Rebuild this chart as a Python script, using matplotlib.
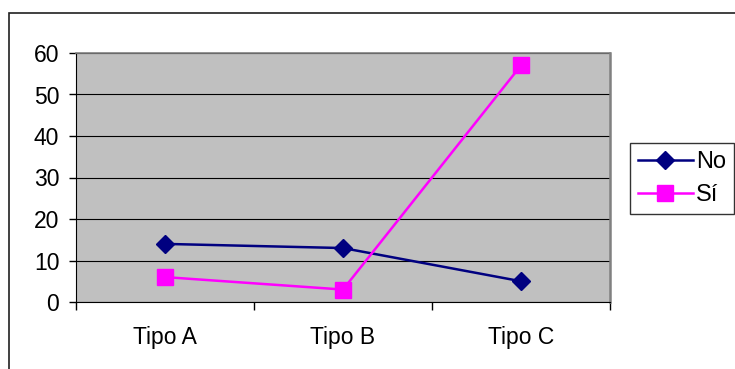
import matplotlib
matplotlib.use("Agg")
import matplotlib.pyplot as plt
from matplotlib.patches import Rectangle

categories = ["Tipo A", "Tipo B", "Tipo C"]
no_vals = [14, 13, 5]
si_vals = [6, 3, 57]
y_ticks = [0, 10, 20, 30, 40, 50, 60]

plt.rcParams['font.family'] = ['Liberation Sans', 'DejaVu Sans']
W, H = 735, 369
fig = plt.figure(figsize=(W / 100, H / 100), dpi=100)

# outer chart border (extends past right/bottom edges)
fig.patches.append(Rectangle((9 / W, -0.2), 1.2, 1 - 13 / H + 0.2,
                             transform=fig.transFigure, fill=False,
                             edgecolor='#202020', linewidth=1.2))

ax = fig.add_axes([76 / W, 1 - 302 / H, (610 - 76) / W, (302 - 53) / H])
ax.set_facecolor('#C0C0C0')
x = list(range(len(categories)))

ax.plot(x, no_vals, color='#000080', linewidth=1.8, marker='D', markersize=9.5,
        markerfacecolor='#000080', markeredgecolor='#000080', label='No', zorder=3)
ax.plot(x, si_vals, color='#FF00FF', linewidth=1.8, marker='s', markersize=11,
        markerfacecolor='#FF00FF', markeredgecolor='#FF00FF', label='Sí', zorder=3)

ax.set_xlim(-0.5, 2.5)
ax.set_ylim(0, 60)
ax.set_yticks(y_ticks)
ax.set_yticklabels([str(v) for v in y_ticks], fontsize=16.5)
ax.tick_params(axis='y', direction='out', length=5, width=1, pad=7, color='black')

ax.set_xticks([-0.5, 0.5, 1.5, 2.5])
ax.set_xticklabels([])
ax.tick_params(axis='x', which='major', direction='out', length=6, width=1, color='black')
ax.set_xticks(x, minor=True)
ax.set_xticklabels(categories, minor=True, fontsize=16.5)
ax.tick_params(axis='x', which='minor', length=0, pad=17)

ax.grid(axis='y', color='#000000', linewidth=0.8)
ax.set_axisbelow(True)
for s in ['top', 'right']:
    ax.spines[s].set_color('#808080')
ax.spines['right'].set_linewidth(1.8)
ax.spines['top'].set_linewidth(1.2)
ax.spines['left'].set_color('black')
ax.spines['bottom'].set_color('black')

handles, labels = ax.get_legend_handles_labels()
leg = fig.legend(handles, labels, loc='upper left',
                 bbox_to_anchor=(630 / W, 1 - 143 / H), fontsize=17,
                 frameon=True, fancybox=False, shadow=False,
                 handlelength=2.3, handletextpad=0.15, labelspacing=0.45,
                 borderpad=0.35, borderaxespad=0)
leg.get_frame().set_edgecolor('black')
leg.get_frame().set_linewidth(1.0)

fig.savefig('out.png', dpi=100)
